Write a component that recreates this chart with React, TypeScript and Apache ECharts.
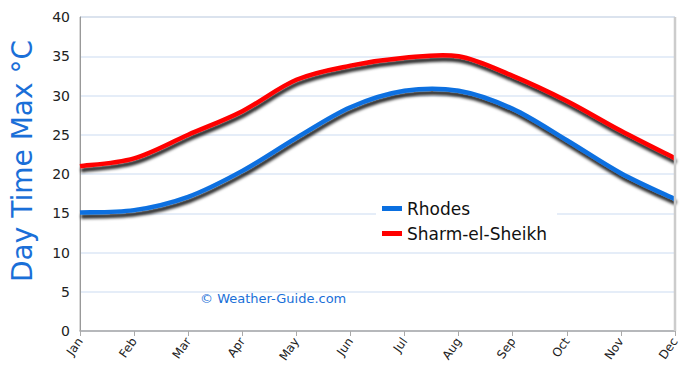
import React, { useEffect, useRef } from "react";
import * as echarts from "echarts";

const months = ["Jan", "Feb", "Mar", "Apr", "May", "Jun", "Jul", "Aug", "Sep", "Oct", "Nov", "Dec"];
const rhodes = [15.1, 15.4, 17.1, 20.4, 24.6, 28.5, 30.6, 30.6, 28.3, 24.3, 20.1, 16.8];
const sharm = [21, 22, 25, 28, 32, 33.8, 34.8, 35, 32.5, 29.3, 25.5, 22];
const seriesNames = ["Rhodes", "Sharm-el-Sheikh"];
const seriesColors = ["#0a6fe0", "#ff0000"];
const yTitle = "Day Time Max °C";
const watermark = "© Weather-Guide.com";

const FONT = "DejaVu Sans";

function catmullPath(pts: number[][]): string {
  let d = `M${pts[0][0]},${pts[0][1]}`;
  for (let i = 0; i < pts.length - 1; i++) {
    const p0 = pts[i - 1] || pts[i];
    const p1 = pts[i];
    const p2 = pts[i + 1];
    const p3 = pts[i + 2] || pts[i + 1];
    const c1x = p1[0] + (p2[0] - p0[0]) / 6;
    const c1y = p1[1] + (p2[1] - p0[1]) / 6;
    const c2x = p2[0] - (p3[0] - p1[0]) / 6;
    const c2y = p2[1] - (p3[1] - p1[1]) / 6;
    d += ` C${c1x},${c1y} ${c2x},${c2y} ${p2[0]},${p2[1]}`;
  }
  return d;
}

function makeSeries(name: string, values: number[], color: string) {
  return {
    name,
    type: "custom",
    data: values.map((v, i) => [i, v]),
    itemStyle: { color },
    z: 3,
    renderItem: (params: any, api: any) => {
      if (params.dataIndex !== 0) return null;
      const pts = values.map((v, i) => api.coord([i, v]));
      return {
        type: "path",
        shape: { pathData: catmullPath(pts) },
        style: {
          fill: "none",
          stroke: color,
          lineWidth: 4.5,
          shadowColor: "rgba(0,0,0,0.85)",
          shadowBlur: 3,
          shadowOffsetX: 1,
          shadowOffsetY: 4,
        },
      };
    },
  };
}

export default function App() {
  const ref = useRef<HTMLDivElement>(null);
  useEffect(() => {
    if (!ref.current) return;
    const chart = echarts.init(ref.current, null, { renderer: "svg" });
    chart.setOption({
      animation: false,
      backgroundColor: "#ffffff",
      textStyle: { fontFamily: FONT },
      grid: {
        left: 80,
        right: 15,
        top: 17,
        bottom: 44,
        show: true,
        borderColor: "#b0b0b0",
        borderWidth: 1,
      },
      legend: {
        orient: "vertical",
        left: 376,
        top: 196,
        backgroundColor: "#ffffff",
        padding: [4, 10, 6, 6],
        itemGap: 8,
        icon: "rect",
        itemWidth: 20,
        itemHeight: 5,
        textStyle: { fontFamily: FONT, fontSize: 17, color: "#111" },
        data: seriesNames,
      },
      xAxis: {
        type: "category",
        data: months,
        boundaryGap: false,
        axisLine: { lineStyle: { color: "#aaaaaa", width: 1.5 } },
        axisTick: { show: true, alignWithLabel: true, length: 5, lineStyle: { color: "#aaaaaa" } },
        axisLabel: { rotate: 55, color: "#222", fontSize: 12, fontFamily: FONT, margin: 8 },
        splitLine: { show: false },
      },
      yAxis: {
        type: "value",
        min: 0,
        max: 40,
        interval: 5,
        axisLine: { show: true, lineStyle: { color: "#999999", width: 1 } },
        axisTick: { show: false },
        axisLabel: { color: "#222", fontSize: 14, fontFamily: FONT, margin: 10 },
        splitLine: { show: true, lineStyle: { color: "#dde7f6", width: 1.5 } },
      },
      graphic: [
        {
          type: "text",
          x: 22,
          y: 161,
          rotation: Math.PI / 2,
          style: {
            text: yTitle,
            fill: "#1a6fd8",
            font: `28px "${FONT}"`,
            align: "center",
            verticalAlign: "middle",
            textAlign: "center",
            textVerticalAlign: "middle",
          },
        },
        {
          type: "text",
          left: 200,
          top: 292,
          style: { text: watermark, fill: "#1a6fd8", font: `13px "${FONT}"` },
        },
        {
          type: "line",
          shape: { x1: 675, y1: 17, x2: 675, y2: 331 },
          style: { stroke: "#cccccc", lineWidth: 2.5 },
          z: 10,
        },
      ],
      series: [
        makeSeries(seriesNames[0], rhodes, seriesColors[0]),
        makeSeries(seriesNames[1], sharm, seriesColors[1]),
      ],
    });
    return () => chart.dispose();
  }, []);
  return <div ref={ref} style={{ width: 690, height: 375, position: "absolute", left: 0, top: 0 }} />;
}
